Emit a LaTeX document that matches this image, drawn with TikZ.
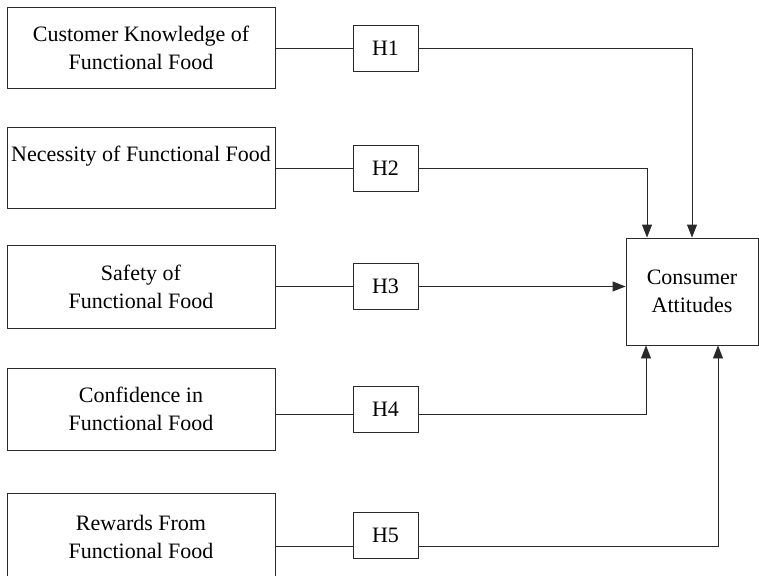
\documentclass[tikz,border=0pt]{standalone}
\usepackage{fontspec}
\setmainfont{Liberation Serif}
\usepackage{tikz}
\usetikzlibrary{positioning,arrows.meta}
\definecolor{LineGray}{HTML}{2A2A2A}

\begin{document}
\begin{tikzpicture}[x=1pt, y=-1pt,
    every node/.style={font=\fontsize{22}{28}\selectfont, align=center, inner sep=2pt},
    factor/.style={draw=LineGray, line width=0.9pt, minimum width=268pt},
    hyp/.style={draw=LineGray, line width=0.9pt, minimum width=65pt, minimum height=46pt},
    link/.style={LineGray, line width=0.9pt},
    arr/.style={link, -{Triangle[length=13pt, width=10pt]}}]
  \useasboundingbox (0,0) rectangle (759,575);

  % Factor boxes
  \node[factor, minimum height=81pt] (knowledge)  at (141,48)    {Customer Knowledge of\\Functional Food};
  \node[factor, minimum height=81pt] (necessity)  at (141,168)   {Necessity of Functional Food\\\mbox{}};
  \node[factor, minimum height=83pt] (safety)     at (141,286.5) {Safety of\\Functional Food};
  \node[factor, minimum height=82pt] (confidence) at (141,409)   {Confidence in\\Functional Food};
  \node[factor, minimum height=88pt] (rewards)    at (141,537)   {Rewards From\\Functional Food};

  % Hypotheses
  \node[hyp] (h1) at (385.5,48)   {H1};
  \node[hyp] (h2) at (385.5,168)  {H2};
  \node[hyp] (h3) at (385.5,286.5){H3};
  \node[hyp] (h4) at (385.5,409)  {H4};
  \node[hyp] (h5) at (385.5,535)  {H5};

  % Outcome
  \node[draw=LineGray, line width=0.9pt, minimum width=132pt, minimum height=107pt] (attitudes) at (692,291.5) {Consumer\\Attitudes};

  % Paths
  \draw[link] (knowledge) -- (h1);
  \draw[arr]  (h1) -| (attitudes.north);
  \draw[link] (necessity) -- (h2);
  \draw[arr]  (h2) -| ([xshift=-45pt]attitudes.north);
  \draw[link] (safety) -- (h3);
  \draw[arr]  (h3.east) -- (h3.east -| attitudes.west);
  \draw[link] ([yshift=-5pt]h4.west -| confidence.east) -- ([yshift=-5pt]h4.west);
  \draw[arr]  ([yshift=-5pt]h4.east) -| ([xshift=-46pt]attitudes.south);
  \draw[link] ([yshift=-11pt]h5.west -| rewards.east) -- ([yshift=-11pt]h5.west);
  \draw[arr]  ([yshift=-11pt]h5.east) -| ([xshift=26pt]attitudes.south);
\end{tikzpicture}
\end{document}
